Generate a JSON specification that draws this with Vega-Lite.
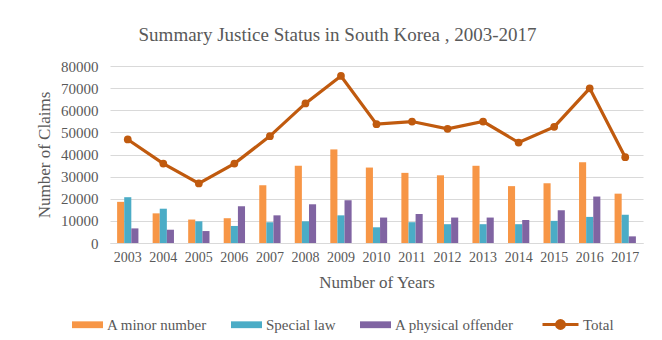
{
  "$schema": "https://vega.github.io/schema/vega-lite/v6.json",
  "width": 533,
  "height": 177,
  "autosize": {"type": "none"},
  "padding": {"left": 110, "top": 66, "right": 19, "bottom": 97},
  "background": "#ffffff",
  "title": {
    "text": "Summary Justice Status in South Korea , 2003-2017",
    "font": "Liberation Serif",
    "fontSize": 19,
    "fontWeight": "normal",
    "color": "#595959",
    "anchor": "middle",
    "dx": -39,
    "offset": 14
  },
  "config": {
    "view": {"stroke": null},
    "font": "Liberation Serif",
    "style": {
      "guide-label": {"font": "Liberation Serif"},
      "guide-title": {"font": "Liberation Serif"}
    },
    "axis": {
      "labelFont": "Liberation Serif",
      "titleFont": "Liberation Serif",
      "labelColor": "#595959",
      "titleColor": "#595959",
      "titleFontWeight": "normal"
    },
    "legend": {
      "labelFont": "Liberation Serif",
      "labelColor": "#595959",
      "labelFontSize": 15
    }
  },
  "datasets": {
    "bars": [
      {"Year": "2003", "Series": "A minor number", "Value": 18600},
      {"Year": "2003", "Series": "Special law", "Value": 20700},
      {"Year": "2003", "Series": "A physical offender", "Value": 6600},
      {"Year": "2004", "Series": "A minor number", "Value": 13400},
      {"Year": "2004", "Series": "Special law", "Value": 15500},
      {"Year": "2004", "Series": "A physical offender", "Value": 6000},
      {"Year": "2005", "Series": "A minor number", "Value": 10600},
      {"Year": "2005", "Series": "Special law", "Value": 9800},
      {"Year": "2005", "Series": "A physical offender", "Value": 5400},
      {"Year": "2006", "Series": "A minor number", "Value": 11200},
      {"Year": "2006", "Series": "Special law", "Value": 7700},
      {"Year": "2006", "Series": "A physical offender", "Value": 16600},
      {"Year": "2007", "Series": "A minor number", "Value": 26100},
      {"Year": "2007", "Series": "Special law", "Value": 9400},
      {"Year": "2007", "Series": "A physical offender", "Value": 12500},
      {"Year": "2008", "Series": "A minor number", "Value": 34900},
      {"Year": "2008", "Series": "Special law", "Value": 9800},
      {"Year": "2008", "Series": "A physical offender", "Value": 17500},
      {"Year": "2009", "Series": "A minor number", "Value": 42300},
      {"Year": "2009", "Series": "Special law", "Value": 12500},
      {"Year": "2009", "Series": "A physical offender", "Value": 19300},
      {"Year": "2010", "Series": "A minor number", "Value": 34100},
      {"Year": "2010", "Series": "Special law", "Value": 7100},
      {"Year": "2010", "Series": "A physical offender", "Value": 11500},
      {"Year": "2011", "Series": "A minor number", "Value": 31700},
      {"Year": "2011", "Series": "Special law", "Value": 9400},
      {"Year": "2011", "Series": "A physical offender", "Value": 13100},
      {"Year": "2012", "Series": "A minor number", "Value": 30600},
      {"Year": "2012", "Series": "Special law", "Value": 8500},
      {"Year": "2012", "Series": "A physical offender", "Value": 11500},
      {"Year": "2013", "Series": "A minor number", "Value": 34900},
      {"Year": "2013", "Series": "Special law", "Value": 8500},
      {"Year": "2013", "Series": "A physical offender", "Value": 11500},
      {"Year": "2014", "Series": "A minor number", "Value": 25700},
      {"Year": "2014", "Series": "Special law", "Value": 8500},
      {"Year": "2014", "Series": "A physical offender", "Value": 10400},
      {"Year": "2015", "Series": "A minor number", "Value": 27000},
      {"Year": "2015", "Series": "Special law", "Value": 10000},
      {"Year": "2015", "Series": "A physical offender", "Value": 14800},
      {"Year": "2016", "Series": "A minor number", "Value": 36500},
      {"Year": "2016", "Series": "Special law", "Value": 11800},
      {"Year": "2016", "Series": "A physical offender", "Value": 21000},
      {"Year": "2017", "Series": "A minor number", "Value": 22300},
      {"Year": "2017", "Series": "Special law", "Value": 12800},
      {"Year": "2017", "Series": "A physical offender", "Value": 3000}
    ],
    "totals": [
      {"Year": "2003", "Series": "Total", "Value": 46800},
      {"Year": "2004", "Series": "Total", "Value": 35900},
      {"Year": "2005", "Series": "Total", "Value": 26900},
      {"Year": "2006", "Series": "Total", "Value": 35900},
      {"Year": "2007", "Series": "Total", "Value": 48300},
      {"Year": "2008", "Series": "Total", "Value": 63100},
      {"Year": "2009", "Series": "Total", "Value": 75500},
      {"Year": "2010", "Series": "Total", "Value": 53700},
      {"Year": "2011", "Series": "Total", "Value": 54900},
      {"Year": "2012", "Series": "Total", "Value": 51600},
      {"Year": "2013", "Series": "Total", "Value": 54900},
      {"Year": "2014", "Series": "Total", "Value": 45400},
      {"Year": "2015", "Series": "Total", "Value": 52500},
      {"Year": "2016", "Series": "Total", "Value": 69900},
      {"Year": "2017", "Series": "Total", "Value": 38800}
    ]
  },
  "encoding": {
    "x": {
      "field": "Year",
      "type": "nominal",
      "scale": {"paddingInner": 0.4, "paddingOuter": 0.2},
      "axis": {
        "title": "Number of Years",
        "titleFont": "Liberation Serif",
        "titleFontSize": 17,
        "titlePadding": 10,
        "labelFont": "Liberation Serif",
        "labelFontSize": 14,
        "labelAngle": 0,
        "labelPadding": 7,
        "ticks": false,
        "domain": true,
        "domainColor": "#d9d9d9",
        "domainWidth": 1
      }
    },
    "y": {
      "field": "Value",
      "type": "quantitative",
      "scale": {"domain": [0, 80000], "nice": false},
      "axis": {
        "title": "Number of Claims",
        "titleFont": "Liberation Serif",
        "titleFontSize": 17,
        "titlePadding": 7,
        "labelFont": "Liberation Serif",
        "labelFontSize": 15,
        "labelPadding": 12,
        "labelOverlap": false,
        "values": [0, 10000, 20000, 30000, 40000, 50000, 60000, 70000, 80000],
        "format": "d",
        "ticks": false,
        "domain": false,
        "grid": true,
        "gridColor": "#d9d9d9",
        "gridWidth": 1
      }
    }
  },
  "layer": [
    {
      "data": {"name": "bars"},
      "mark": {"type": "bar"},
      "encoding": {
        "xOffset": {
          "field": "Series",
          "type": "nominal",
          "sort": ["A minor number", "Special law", "A physical offender"],
          "scale": {"paddingInner": 0, "paddingOuter": 0}
        },
        "color": {
          "field": "Series",
          "type": "nominal",
          "sort": ["A minor number", "Special law", "A physical offender"],
          "scale": {
            "domain": ["A minor number", "Special law", "A physical offender"],
            "range": ["#F79646", "#4BACC6", "#8064A2"]
          },
          "legend": {
            "title": null,
            "orient": "none",
            "direction": "horizontal",
            "legendX": -38,
            "legendY": 243,
            "symbolType": "M-1,-0.22H1V0.22H-1Z",
            "symbolSize": 961,
            "symbolStrokeWidth": 0,
            "labelOffset": 4,
            "columnPadding": 24
          }
        }
      }
    },
    {
      "data": {"name": "totals"},
      "mark": {"type": "line", "strokeWidth": 3.2},
      "encoding": {
        "stroke": {
          "field": "Series",
          "type": "nominal",
          "scale": {"domain": ["Total"], "range": ["#C05A0E"]},
          "legend": {
            "title": null,
            "orient": "none",
            "direction": "horizontal",
            "legendX": 431,
            "legendY": 239,
            "symbolType": "M-1,0H1M0.22,0A0.22,0.22,0,1,1,-0.22,0A0.22,0.22,0,1,1,0.22,0Z",
            "symbolSize": 1296,
            "symbolStrokeWidth": 3,
            "labelOffset": 3,
            "symbolFillColor": "#C05A0E",
            "encode": {"symbols": {"update": {"fill": {"value": "#C05A0E"}}}}
          }
        }
      }
    },
    {
      "data": {"name": "totals"},
      "mark": {"type": "point", "filled": true, "size": 60, "opacity": 1, "color": "#C05A0E"},
      "encoding": {}
    }
  ]
}
